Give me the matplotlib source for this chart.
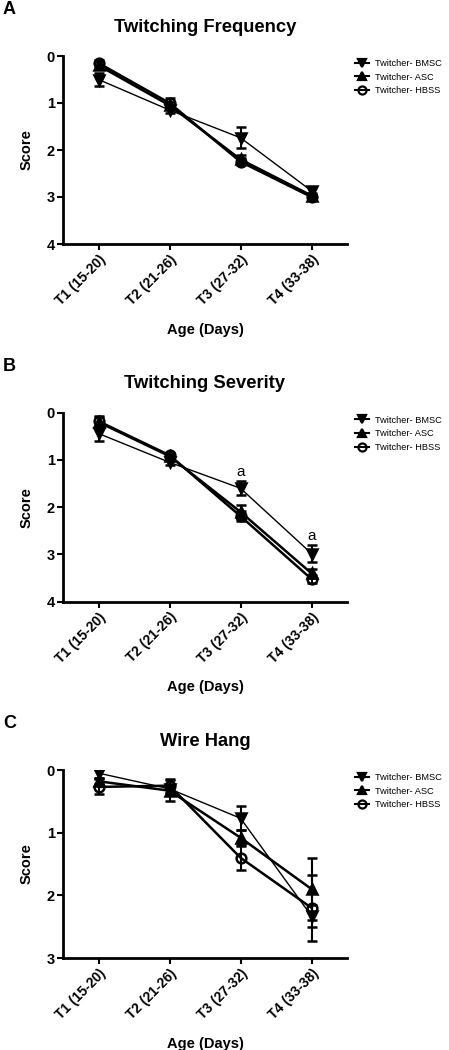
import matplotlib
matplotlib.use("Agg")
import matplotlib.pyplot as plt
from matplotlib.lines import Line2D

plt.rcParams['font.family'] = ['Liberation Sans', 'DejaVu Sans']

categories = ["T1 (15-20)", "T2 (21-26)", "T3 (27-32)", "T4 (33-38)"]
series_names = ["Twitcher- BMSC", "Twitcher- ASC", "Twitcher- HBSS"]

# Panel A: Twitching Frequency
freq_bmsc = [0.50, 1.15, 1.74, 2.87]
freq_bmsc_err = [0.13, 0.06, 0.22, 0.08]
freq_asc = [0.20, 1.05, 2.20, 2.97]
freq_asc_err = [0.08, 0.08, 0.10, 0.06]
freq_hbss = [0.15, 1.00, 2.25, 3.00]
freq_hbss_err = [0.06, 0.10, 0.07, 0.05]

# Panel B: Twitching Severity
sev_bmsc = [0.44, 1.05, 1.60, 2.98]
sev_bmsc_err = [0.16, 0.05, 0.15, 0.18]
sev_asc = [0.20, 0.92, 2.10, 3.40]
sev_asc_err = [0.10, 0.05, 0.15, 0.10]
sev_hbss = [0.18, 0.90, 2.19, 3.52]
sev_hbss_err = [0.10, 0.05, 0.10, 0.08]
sev_sig_labels = ["", "", "a", "a"]

# Panel C: Wire Hang
wire_bmsc = [0.05, 0.30, 0.77, 2.33]
wire_bmsc_err = [0.07, 0.06, 0.19, 0.18]
wire_asc = [0.18, 0.33, 1.08, 1.90]
wire_asc_err = [0.05, 0.17, 0.13, 0.50]
wire_hbss = [0.27, 0.25, 1.40, 2.20]
wire_hbss_err = [0.12, 0.10, 0.20, 0.53]

panels = [
    dict(label="A", title="Twitching Frequency", ymax=4,
         data=[(freq_bmsc, freq_bmsc_err), (freq_asc, freq_asc_err), (freq_hbss, freq_hbss_err)],
         sig=None, top=56, bottom=244),
    dict(label="B", title="Twitching Severity", ymax=4,
         data=[(sev_bmsc, sev_bmsc_err), (sev_asc, sev_asc_err), (sev_hbss, sev_hbss_err)],
         sig=sev_sig_labels, top=412.7, bottom=601.7),
    dict(label="C", title="Wire Hang", ymax=3,
         data=[(wire_bmsc, wire_bmsc_err), (wire_asc, wire_asc_err), (wire_hbss, wire_hbss_err)],
         sig=None, top=770, bottom=958),
]

W, H = 449, 1050
fig = plt.figure(figsize=(W / 100, H / 100), dpi=100)

styles = [
    dict(marker="v", mfc="black", lw=1.0, ms=6.5),
    dict(marker="^", mfc="black", lw=1.8, ms=6.5),
    dict(marker="o", mfc="none", lw=1.8, ms=7),
]

x = list(range(len(categories)))
left_px, right_px = 63, 347

for p in panels:
    ax = fig.add_axes([left_px / W, 1 - p["bottom"] / H,
                       (right_px - left_px) / W, (p["bottom"] - p["top"]) / H])
    handles = []
    for (vals, errs), st, name in zip(p["data"], styles, series_names):
        ax.errorbar(x, vals, yerr=errs, color="black", marker=st["marker"],
                    mfc=st["mfc"], mec="black", mew=1.8, ms=st["ms"],
                    lw=st["lw"], elinewidth=1.5, capsize=3.6, capthick=1.5)
        handles.append(Line2D([], [], color="black", marker=st["marker"],
                              mfc=st["mfc"], mec="black", mew=1.6, ms=5.8,
                              lw=1.5))
    ax.set_xlim(-0.5, 3.5)
    ax.set_ylim(p["ymax"], 0)
    ax.set_yticks(range(p["ymax"] + 1))
    ax.set_xticks(x)
    ax.set_xticklabels(categories, rotation=45, ha="right", rotation_mode="anchor",
                       fontsize=10, fontweight="bold")
    for lab in ax.get_yticklabels():
        lab.set_fontweight("bold")
        lab.set_fontsize(10.5)
    ax.spines["top"].set_visible(False)
    ax.spines["right"].set_visible(False)
    ax.spines["left"].set_linewidth(2)
    ax.spines["bottom"].set_linewidth(2)
    ax.tick_params(axis="both", width=1.5, length=4, pad=2)
    ax.set_ylabel("Score", fontsize=10.5, fontweight="bold", labelpad=9)
    ax.set_xlabel("Age (Days)", fontsize=10.5, fontweight="bold", labelpad=10.5)
    ax.set_title(p["title"], fontsize=13.2, fontweight="bold", pad=17.5)
    if p["sig"]:
        vals, errs = p["data"][0]
        for xi, (s, v, e) in enumerate(zip(p["sig"], vals, errs)):
            if s:
                ax.text(xi, v - e - 0.2, s, ha="center", va="center", fontsize=11)
    fig.text(3 / W, 1 - (p["top"] - 46) / H, p["label"], fontsize=13,
             fontweight="bold", ha="left", va="center")
    ax.legend(handles=handles, labels=series_names, loc="upper left",
              bbox_to_anchor=(355 / W, 1 - (p["top"] + 3) / H),
              bbox_transform=fig.transFigure, frameon=False, fontsize=6.7,
              handlelength=1.5, handletextpad=0.7, labelspacing=0.5,
              borderaxespad=0, borderpad=0)

fig.savefig("out.png", dpi=100)
